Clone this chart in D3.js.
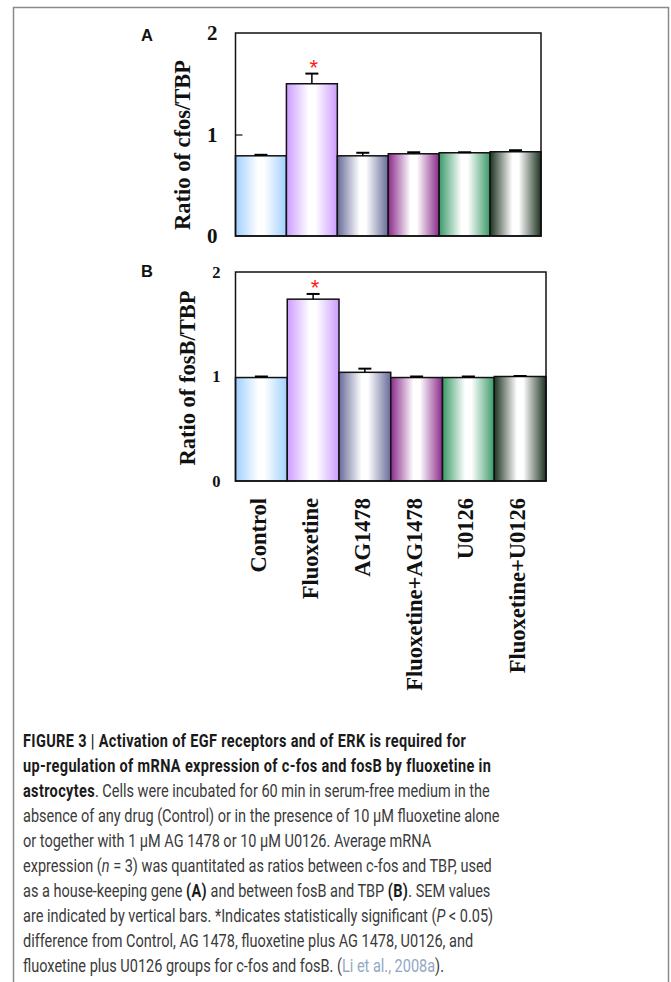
<!DOCTYPE html>
<html>
<head>
<meta charset="utf-8">
<script src="https://cdn.jsdelivr.net/npm/d3@7"></script>
<style>
  html, body { margin: 0; padding: 0; background: #fff; }
  svg { display: block; }
</style>
</head>
<body>
<svg id="chart" width="671" height="982"></svg>
<script>
// --- data ---
var categories = ['Control', 'Fluoxetine', 'AG1478', 'Fluoxetine+AG1478', 'U0126', 'Fluoxetine+U0126'];
var cfosMean   = [0.79, 1.50, 0.79, 0.81, 0.82, 0.83];
var cfosSem    = [0.01, 0.10, 0.03, 0.015, 0.005, 0.015];
var fosbMean   = [0.99, 1.74, 1.04, 0.99, 0.99, 1.00];
var fosbSem    = [0.01, 0.05, 0.035, 0.01, 0.01, 0.005];
var significant = [false, true, false, false, false, false];
var yTicks     = [0, 1, 2];
var barColors  = ['#9fcfff', '#cc9cff', '#676b98', '#8a2a8a', '#3a9a68', '#1f3322'];

// caption lines: [text, style]  b = bold, i = italic, c = citation, n = normal
var captionLines = [
  [['FIGURE 3 | Activation of EGF receptors and of ERK is required for', 'b']],
  [['up-regulation of mRNA expression of c-fos and fosB by fluoxetine in', 'b']],
  [['astrocytes', 'b'], ['. Cells were incubated for 60 min in serum-free medium in the', 'n']],
  [['absence of any drug (Control) or in the presence of 10 \u03bcM fluoxetine alone', 'n']],
  [['or together with 1 \u03bcM AG 1478 or 10 \u03bcM U0126. Average mRNA', 'n']],
  [['expression (', 'n'], ['n', 'i'], [' = 3) was quantitated as ratios between c-fos and TBP, used', 'n']],
  [['as a house-keeping gene ', 'n'], ['(A)', 'b'], [' and between fosB and TBP ', 'n'], ['(B)', 'b'], ['. SEM values', 'n']],
  [['are indicated by vertical bars. *Indicates statistically significant (', 'n'], ['P', 'i'], [' < 0.05)', 'n']],
  [['difference from Control, AG 1478, fluoxetine plus AG 1478, U0126, and', 'n']],
  [['fluoxetine plus U0126 groups for c-fos and fosB. (', 'n'], ['Li et al., 2008a', 'c'], [').', 'n']]
];

var svg = d3.select('#chart');
var serif = '"Liberation Serif", "Times New Roman", serif';
var sans = '"Liberation Sans", Arial, sans-serif';

// outer figure frame (runs off the bottom of the page)
svg.append('rect')
  .attr('x', 13.5).attr('y', 7.5)
  .attr('width', 655).attr('height', 1000)
  .attr('fill', 'none').attr('stroke', '#8a8a8a').attr('stroke-width', 1.5);

// --- gradients: colour at the edges, white in the middle ---
var defs = svg.append('defs');
barColors.forEach(function(c, i) {
  var g = defs.append('linearGradient').attr('id', 'grad' + i)
    .attr('x1', '0%').attr('x2', '100%').attr('y1', '0%').attr('y2', '0%');
  g.append('stop').attr('offset', '0%').attr('stop-color', c);
  g.append('stop').attr('offset', '44%').attr('stop-color', '#ffffff');
  g.append('stop').attr('offset', '56%').attr('stop-color', '#ffffff');
  g.append('stop').attr('offset', '100%').attr('stop-color', c);
});

function drawPanel(p) {
  var x = d3.scaleBand().domain(categories).range([p.left, p.right]).padding(0);
  var y = d3.scaleLinear().domain([0, 2]).range([p.bottom, p.top]);
  var g = svg.append('g');

  // bars
  g.selectAll('rect.bar')
    .data(categories)
    .enter().append('rect')
    .attr('class', 'bar')
    .attr('x', function(d) { return x(d); })
    .attr('width', x.bandwidth())
    .attr('y', function(d, i) { return y(p.mean[i]); })
    .attr('height', function(d, i) { return p.bottom - y(p.mean[i]); })
    .attr('fill', function(d, i) { return 'url(#grad' + i + ')'; })
    .attr('stroke', '#111').attr('stroke-width', 1.5);

  // error bars (upper half only)
  var eb = g.selectAll('g.err')
    .data(categories)
    .enter().append('g').attr('class', 'err');
  eb.append('line')
    .attr('x1', function(d) { return x(d) + x.bandwidth() / 2; })
    .attr('x2', function(d) { return x(d) + x.bandwidth() / 2; })
    .attr('y1', function(d, i) { return y(p.mean[i]); })
    .attr('y2', function(d, i) { return y(p.mean[i] + p.sem[i]); })
    .attr('stroke', '#000').attr('stroke-width', 1.5);
  eb.append('line')
    .attr('x1', function(d) { return x(d) + x.bandwidth() / 2 - 6.5; })
    .attr('x2', function(d) { return x(d) + x.bandwidth() / 2 + 6.5; })
    .attr('y1', function(d, i) { return y(p.mean[i] + p.sem[i]); })
    .attr('y2', function(d, i) { return y(p.mean[i] + p.sem[i]); })
    .attr('stroke', '#000').attr('stroke-width', 2);

  // significance stars
  g.selectAll('text.star')
    .data(categories.filter(function(d, i) { return significant[i]; }))
    .enter().append('text')
    .attr('class', 'star')
    .attr('x', function(d) { return x(d) + x.bandwidth() / 2 + 2; })
    .attr('y', function(d) {
      var i = categories.indexOf(d);
      return y(p.mean[i] + p.sem[i]) + p.starGap;
    })
    .attr('text-anchor', 'middle')
    .attr('font-family', sans).attr('font-size', 22)
    .attr('fill', '#ff1a1a')
    .text('*');

  // plot frame
  g.append('rect')
    .attr('x', p.left).attr('y', p.top)
    .attr('width', p.right - p.left).attr('height', p.bottom - p.top)
    .attr('fill', 'none').attr('stroke', '#111').attr('stroke-width', 1.5);

  // y axis: labels, inner tick at 1
  var axis = d3.axisLeft(y).tickValues(yTicks).tickFormat(d3.format('d'))
    .tickSize(p.innerTick ? -7 : 0).tickPadding(p.tickPad);
  var ax = g.append('g').attr('transform', 'translate(' + p.left + ',0)').call(axis);
  ax.select('.domain').remove();
  ax.selectAll('.tick line').attr('stroke', '#111').attr('stroke-width', 1.2)
    .filter(function(d) { return d !== 1; }).remove();
  ax.selectAll('.tick text')
    .attr('font-family', serif).attr('font-weight', 'bold')
    .attr('font-size', p.tickFont).attr('fill', '#111');

  // y title
  g.append('text')
    .attr('transform', 'translate(' + p.titleX + ',' + p.titleY + ') rotate(-90)')
    .attr('text-anchor', 'middle').attr('dy', '0.35em')
    .attr('font-family', serif).attr('font-weight', 'bold').attr('font-size', 22.5)
    .attr('fill', '#111')
    .text(p.title);

  // panel letter
  g.append('text')
    .attr('x', 141).attr('y', p.letterY)
    .attr('font-family', sans).attr('font-weight', 'bold').attr('font-size', 16.5)
    .attr('fill', '#111')
    .text(p.letter);

  return x;
}

drawPanel({
  left: 235.5, right: 541, top: 33, bottom: 236,
  mean: cfosMean, sem: cfosSem, tickFont: 21, tickPad: 18, innerTick: true,
  title: 'Ratio of cfos/TBP', titleX: 182, titleY: 145,
  letter: 'A', letterY: 41, starGap: 1
});

var xB = drawPanel({
  left: 235.5, right: 546, top: 272, bottom: 481,
  mean: fosbMean, sem: fosbSem, tickFont: 16.5, tickPad: 15, innerTick: false,
  title: 'Ratio of fosB/TBP', titleX: 187, titleY: 378,
  letter: 'B', letterY: 277, starGap: 1
});

// category labels under panel B
svg.append('g').selectAll('text')
  .data(categories)
  .enter().append('text')
  .attr('transform', function(d) {
    return 'translate(' + (xB(d) + xB.bandwidth() / 2 - 3) + ',498) rotate(-90)';
  })
  .attr('text-anchor', 'end').attr('dy', '0.35em')
  .attr('font-family', serif).attr('font-weight', 'bold').attr('font-size', 22.5)
  .attr('fill', '#111')
  .text(function(d) { return d; });

// --- caption ---
var cap = svg.append('g');
var capText = cap.append('text')
  .attr('font-family', 'Roboto, "Liberation Sans", sans-serif')
  .attr('font-size', 18.5);

captionLines.forEach(function(line, li) {
  var t = capText.append('tspan').attr('x', 0).attr('y', 746.7 + li * 25);
  line.forEach(function(seg, si) {
    var s = si === 0 ? t : capText.append('tspan');
    s.text(seg[0])
      .attr('font-weight', seg[1] === 'b' ? 'bold' : 'normal')
      .attr('font-style', seg[1] === 'i' ? 'italic' : 'normal')
      .attr('letter-spacing', seg[1] === 'b' ? 0.45 : 0)
      .attr('fill', seg[1] === 'b' ? '#1a1a1a' : (seg[1] === 'c' ? '#93a9c4' : '#3a3a3a'));
  });
});

// squeeze the caption horizontally so line 4 spans its measured width
var probe = cap.append('text')
  .attr('font-family', 'Roboto, "Liberation Sans", sans-serif')
  .attr('font-size', 18.5)
  .text(captionLines[3][0][0]);
var natural = probe.node().getComputedTextLength();
probe.remove();
var k = 477 / natural;
cap.attr('transform', 'translate(23,0) scale(' + k + ',1)');
</script>
</body>
</html>
